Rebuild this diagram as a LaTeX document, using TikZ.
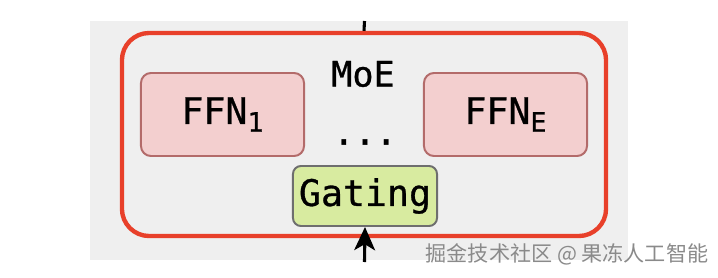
\documentclass[tikz,border=0pt]{standalone}
\usepackage{fontspec}
\usepackage{tikz}
\usetikzlibrary{arrows.meta}
\newfontfamily\diagmono[FakeBold=0.8]{DejaVu Sans Mono}
\newfontfamily\cjkfont{Noto Sans CJK SC}
\definecolor{panelgrey}{HTML}{EFEFEF}
\definecolor{moered}{HTML}{E8402A}
\definecolor{ffnfill}{HTML}{F3CFCF}
\definecolor{ffnedge}{HTML}{B36B6A}
\definecolor{gatefill}{HTML}{D8EBA0}
\definecolor{gateedge}{HTML}{6E6E6E}
\definecolor{markgrey}{HTML}{8A8A8A}
\newcommand{\sub}[1]{\raisebox{-5.5pt}{\fontsize{19}{19}\selectfont #1}}
\tikzset{
	moebox/.style={draw=moered, line width=3.1pt, rounded corners=0.68cm,
		minimum width=12.1cm, minimum height=5.075cm},
	ffnbox/.style={draw=ffnedge, fill=ffnfill, line width=1.4pt, rounded corners=0.25cm,
		minimum width=4.075cm, minimum height=2.075cm,
		font=\diagmono\fontsize{26}{26}\selectfont},
	gatebox/.style={draw=gateedge, fill=gatefill, line width=1.4pt, rounded corners=0.2cm,
		minimum width=3.6cm, minimum height=1.5cm,
		font=\diagmono\fontsize{26}{26}\selectfont},
	plainlabel/.style={font=\diagmono\fontsize{25}{25}\selectfont},
}

\begin{document}
\begin{tikzpicture}[x=0.025cm, y=-0.025cm]
		\useasboundingbox[fill=white] (0,0) rectangle (718,277);
		\fill[panelgrey] (90,21) rectangle (628,260);
		\node[moebox] (moe) at (364,134.5) {};
		\node[plainlabel] (moelabel) at (363,74) {MoE};
		\node[ffnbox] (ffnone) at (222.5,114.5) {FFN\sub{1}};
		\node[ffnbox] (ffnE) at (505.5,114.5) {FFN\sub{E}};
		\node[plainlabel] (dots) at (365,142) {...};
		\node[gatebox] (gating) at (365,196) {Gating};
		\coordinate (out) at (364.5,21);
		\coordinate (in) at (364.5,262);
		\draw[black, line width=2.2pt] (moe.north) -- (out);
		\draw[black, line width=2.2pt, -{Stealth[length=0.58cm, width=0.52cm, inset=0.15cm]}] (in) -- (gating.south);
		\node[text=markgrey, font=\cjkfont\fontsize{15}{15}\selectfont] (mark) at (567,254) {掘金技术社区 @ 果冻人工智能};
\end{tikzpicture}
\end{document}
